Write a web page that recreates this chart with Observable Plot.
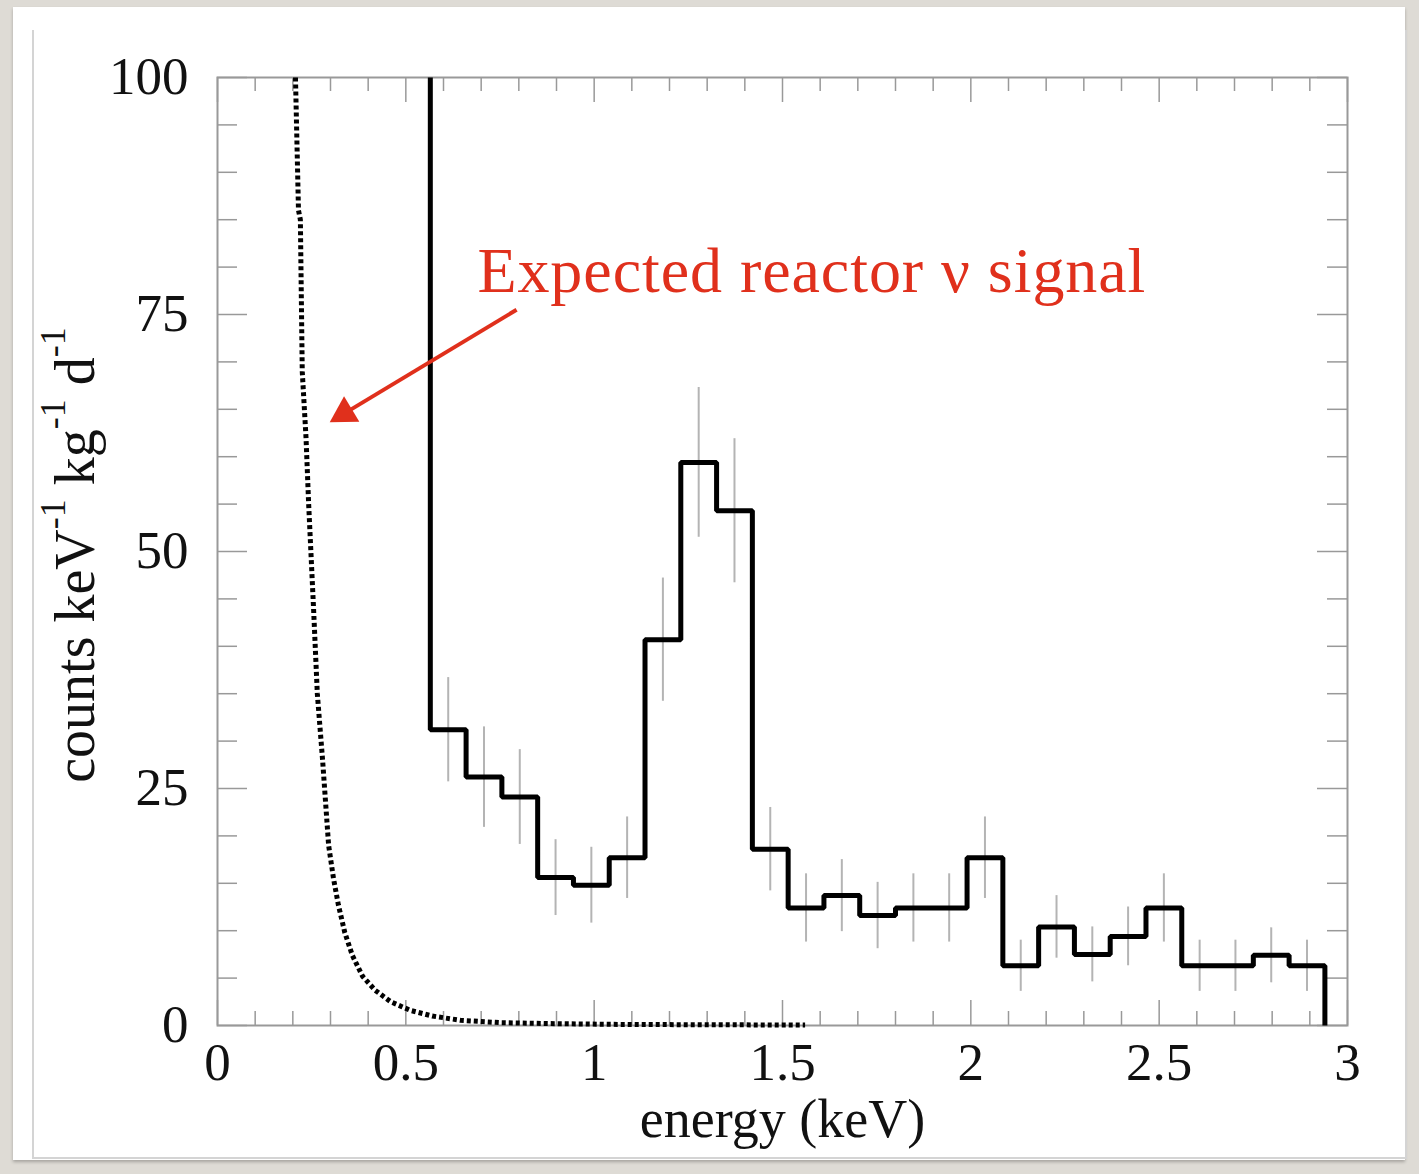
<!DOCTYPE html>
<html>
<head>
<meta charset="utf-8">
<script src="https://cdn.jsdelivr.net/npm/d3@7"></script>
<script src="https://cdn.jsdelivr.net/npm/@observablehq/plot@0.6"></script>
<style>
  html, body { margin: 0; padding: 0; }
  body { width: 1419px; height: 1174px; background: #dedbd5; position: relative; overflow: hidden; }
  #card { position: absolute; left: 13px; top: 7px; width: 1392px; height: 1153px; background: #fff;
          box-shadow: 0 2px 3px rgba(0,0,0,0.25); }
  #inner { position: absolute; left: 32px; top: 30px; width: 1371px; height: 1127px;
           border-left: 2px solid #d4d4d4; border-right: 2px solid #d4d4d4; border-bottom: 2px solid #d4d4d4; }
  #chart { position: absolute; left: 0; top: 0; }
</style>
</head>
<body>
<div id="card"></div>
<div id="inner"></div>
<div id="chart"></div>
<script>
// ---- data ----
// histogram bin edges (keV)
const binEdges = [0.565, 0.66, 0.755, 0.85, 0.945, 1.04, 1.135, 1.23, 1.325, 1.42, 1.515, 1.61, 1.705,
                  1.80, 1.895, 1.99, 2.085, 2.18, 2.275, 2.37, 2.465, 2.56, 2.655, 2.75, 2.845, 2.94];
// measured counts per bin
const binCounts = [31.2, 26.2, 24.1, 15.6, 14.8, 17.7, 40.7, 59.4, 54.3, 18.6, 12.4, 13.7, 11.6,
                   12.4, 12.4, 17.7, 6.3, 10.4, 7.5, 9.4, 12.4, 6.3, 6.3, 7.4, 6.3];
// statistical errors per bin
const binErrors = [5.5, 5.3, 5.0, 4.0, 4.0, 4.3, 6.5, 7.9, 7.6, 4.4, 3.6, 3.8, 3.5,
                   3.6, 3.6, 4.3, 2.7, 3.3, 2.9, 3.1, 3.6, 2.7, 2.7, 2.9, 2.7];
// first (off-scale) bin reaches beyond the top of the plot
const offscaleValue = 100;

// expected reactor neutrino signal (dotted curve)
const signalEnergy = [0.207, 0.215, 0.22, 0.225, 0.235, 0.242, 0.255, 0.265, 0.279, 0.295, 0.308, 0.321,
                      0.338, 0.358, 0.385, 0.419, 0.46, 0.512, 0.57, 0.645, 0.75, 0.884, 1.05, 1.28, 1.56];
const signalCounts = [100, 86, 85, 69, 62, 55, 44, 35, 28, 19, 15.5, 12.7,
                      9.8, 7.4, 5.2, 3.7, 2.5, 1.6, 1.0, 0.55, 0.3, 0.2, 0.12, 0.08, 0.05];

// axis ticks
const xTickLabels = [0, 0.5, 1, 1.5, 2, 2.5, 3];
const yTickLabels = [0, 25, 50, 75, 100];
const xMinorTicks = d3.range(0, 3.0001, 0.1).map(d => +d.toFixed(2));
const yMinorTicks = d3.range(0, 100.001, 5);

// annotation
const annotationText = ["Expected reactor ν signal"];
const annotationPos = [{x: 0.69, y: 77.4}];
const arrowPos = [{x1: 0.794, y1: 75.5, x2: 0.305, y2: 63.8}];

// ---- layout ----
const W = 1419, H = 1174;
const mL = 217, mR = 72, mT = 77, mB = 149;
const pxY = 100 / (H - mT - mB);
const pxX = 3 / (W - mL - mR);

const histPoints = [{x: binEdges[0], y: offscaleValue}];
binCounts.forEach((v, i) => histPoints.push({x: binEdges[i], y: v}));
histPoints.push({x: binEdges[binEdges.length - 1], y: 0});

const errBars = binCounts.map((v, i) => ({
  x: (binEdges[i] + binEdges[i + 1]) / 2, lo: v - binErrors[i], hi: v + binErrors[i]
}));
const signal = signalEnergy.map((e, i) => ({x: e, y: signalCounts[i]}));

const isXMajor = d => xTickLabels.some(t => Math.abs(t - d) < 1e-6);
const isYMajor = d => yTickLabels.includes(d);
const xLen = d => (isXMajor(d) ? 25 : 14) * pxY;
const yLen = d => (isYMajor(d) ? 30 : 20) * pxX;

// arrow geometry: shaft ends where the filled head begins
const headBack = 14; // px from tip to triangle centre
const arrowHead = arrowPos.map(a => {
  const dxp = (a.x2 - a.x1) / pxX, dyp = -(a.y2 - a.y1) / pxY; // screen px
  const len = Math.hypot(dxp, dyp);
  const ux = dxp / len, uy = dyp / len;
  const rot = Math.atan2(ux, -uy) * 180 / Math.PI; // clockwise from up
  return {
    x: a.x2 - ux * headBack * pxX, y: a.y2 + uy * headBack * pxY, rotate: rot,
    sx: a.x1, sy: a.y1, ex: a.x2 - ux * 18 * pxX, ey: a.y2 + uy * 18 * pxY
  };
});

const tickColor = "#999999";
const red = "#e0301c";

const chart = Plot.plot({
  width: W, height: H,
  marginLeft: mL, marginRight: mR, marginTop: mT, marginBottom: mB,
  style: {background: "transparent", fontFamily: "'Liberation Serif', 'Times New Roman', serif", fontSize: "53px", color: "#111"},
  x: {domain: [0, 3], ticks: xTickLabels, tickFormat: d => String(d)},
  y: {domain: [0, 100], ticks: yTickLabels, tickFormat: d => String(d)},
  marks: [
    // ticks (inward)
    Plot.ruleX(xMinorTicks, {x: d => d, y1: 0, y2: d => xLen(d), stroke: tickColor, strokeWidth: 1.5}),
    Plot.ruleX(xMinorTicks, {x: d => d, y1: 100, y2: d => 100 - xLen(d), stroke: tickColor, strokeWidth: 1.5}),
    Plot.ruleY(yMinorTicks, {y: d => d, x1: 0, x2: d => yLen(d), stroke: tickColor, strokeWidth: 1.5}),
    Plot.ruleY(yMinorTicks, {y: d => d, x1: 3, x2: d => 3 - yLen(d), stroke: tickColor, strokeWidth: 1.5}),
    Plot.frame({stroke: tickColor, strokeWidth: 2}),
    Plot.axisX({ticks: xTickLabels, tickSize: 0, tickPadding: 17, label: null, fontSize: 53, tickFormat: d => String(d)}),
    Plot.axisY({ticks: yTickLabels, tickSize: 0, tickPadding: 29, label: null, fontSize: 53, tickFormat: d => String(d)}),
    // error bars
    Plot.ruleX(errBars, {x: "x", y1: "lo", y2: "hi", stroke: "#b4b4b4", strokeWidth: 2}),
    // expected signal (dotted)
    Plot.line(signal, {x: "x", y: "y", stroke: "#000", strokeWidth: 5, strokeDasharray: "4,3", strokeLinecap: "butt"}),
    // measured spectrum
    Plot.line(histPoints, {x: "x", y: "y", curve: "step-after", stroke: "#000", strokeWidth: 5, strokeLinejoin: "miter", strokeLinecap: "butt"}),
    // x label
    Plot.text(["energy (keV)"], {frameAnchor: "bottom", dy: 94, text: d => d, fontSize: 54, lineAnchor: "middle", fill: "#111"}),
    // annotation arrow
    Plot.link(arrowHead, {x1: "sx", y1: "sy", x2: "ex", y2: "ey", stroke: red, strokeWidth: 4}),
    Plot.dot(arrowHead, {x: "x", y: "y", symbol: "triangle", r: 11, rotate: "rotate", fill: red, stroke: null}),
    Plot.text(annotationPos, {x: "x", y: "y", text: (d, i) => annotationText[i], textAnchor: "start", lineAnchor: "bottom",
      fill: red, fontSize: 64, fontFamily: "'Liberation Serif', serif"})
  ]
});

document.getElementById("chart").appendChild(chart);

// stretch annotation to the reference width
d3.select(chart).selectAll("text").filter(function () { return this.textContent === annotationText[0]; })
  .attr("textLength", 668).attr("lengthAdjust", "spacing");

// y-axis label with superscripts
const svg = d3.select(chart);
const cy = mT + (H - mT - mB) / 2;
const yl = svg.append("text")
  .attr("transform", `translate(${mL - 142},${cy + 4}) rotate(-90)`)
  .attr("text-anchor", "middle")
  .attr("dominant-baseline", "central")
  .attr("font-size", 56)
  .attr("font-family", "'Liberation Serif', serif")
  .attr("fill", "#111");
const parts = [["counts keV", false], ["-1", true], [" kg", false], ["-1", true], [" d", false], ["-1", true]];
parts.forEach(([t, sup], i) => {
  const ts = yl.append("tspan").text(t);
  if (sup) ts.attr("font-size", 36).attr("dy", -22);
  else ts.attr("dy", i > 0 ? 22 : 0);
});
</script>
</body>
</html>
